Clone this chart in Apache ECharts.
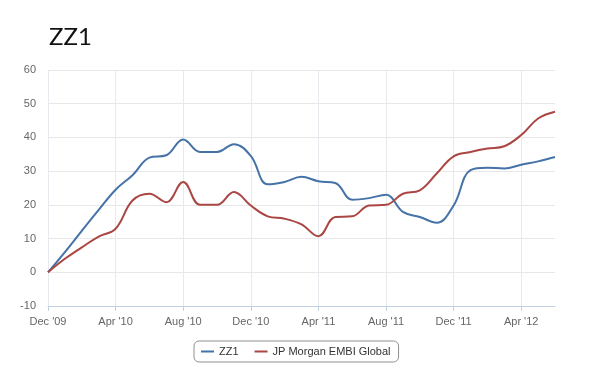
<!DOCTYPE html>
<html>
<head>
<meta charset="utf-8">
<script src="https://cdn.jsdelivr.net/npm/echarts@6/dist/echarts.min.js"></script>
<style>
  html, body { margin: 0; padding: 0; background: #fff; }
  #chart { width: 600px; height: 376px; }
</style>
</head>
<body>
<div id="chart"></div>
<script>
// monthly points, Dec '09 .. Jun '12
const months = [
    "Dec '09", "Jan '10", "Feb '10", "Mar '10", "Apr '10", "May '10", "Jun '10",
    "Jul '10", "Aug '10", "Sep '10", "Oct '10", "Nov '10", "Dec '10",
    "Jan '11", "Feb '11", "Mar '11", "Apr '11", "May '11", "Jun '11",
    "Jul '11", "Aug '11", "Sep '11", "Oct '11", "Nov '11", "Dec '11",
    "Jan '12", "Feb '12", "Mar '12", "Apr '12", "May '12", "Jun '12"
];
const zz1 = [0, 6, 12.3, 18.5, 24.5, 28.8, 34, 34.7, 39.4, 35.7, 35.7, 38, 34.5,
    26.1, 26.8, 28.3, 27, 26.5, 21.5, 22, 23, 17.9, 16.4, 14.7, 19.8,
    30.3, 31, 30.8, 31.9, 32.9, 34.2];
const embi = [0, 4, 7.4, 10.6, 12.9, 21.3, 23.3, 20.8, 26.8, 20, 20, 23.8, 19.8,
    16.6, 15.9, 14.2, 10.7, 16.4, 16.6, 19.8, 20, 23.3, 24.3, 29.3, 34.4,
    35.7, 36.7, 37.4, 40.7, 45.6, 47.6];
const seriesNames = ['ZZ1', 'JP Morgan EMBI Global'];
const colors = ['#4572A7', '#AA4643'];

const chart = echarts.init(document.getElementById('chart'));

chart.setOption({
    animation: false,
    title: {
        text: 'ZZ1',
        left: 44,
        top: 20,
        textStyle: { fontFamily: 'Lato', fontSize: 24, fontWeight: 'normal', color: '#111' }
    },
    legend: {
        data: seriesNames,
        left: 194,
        top: 341,
        icon: 'rect',
        itemWidth: 13,
        itemHeight: 2,
        itemGap: 16,
        padding: [5, 8, 5, 7],
        borderColor: '#909090',
        borderWidth: 1,
        borderRadius: 5,
        textStyle: { fontFamily: 'Liberation Sans', fontSize: 11, color: '#333' }
    },
    grid: { left: 48, right: 45, top: 70, bottom: 70 },
    xAxis: {
        type: 'category',
        data: months,
        boundaryGap: false,
        axisLine: { onZero: false, lineStyle: { color: '#C0D0E0' } },
        axisTick: { interval: 3, length: 5, lineStyle: { color: '#C0D0E0' } },
        axisLabel: { interval: 3, margin: 10, color: '#666', fontFamily: 'Liberation Sans', fontSize: 11 },
        splitLine: { show: true, interval: 3, lineStyle: { color: '#e6e9ee' } }
    },
    yAxis: {
        type: 'value',
        min: -10,
        max: 60,
        interval: 10,
        axisLine: { show: false },
        axisTick: { show: false },
        axisLabel: { margin: 12, color: '#666', fontFamily: 'Liberation Sans', fontSize: 11 },
        splitLine: { lineStyle: { color: '#e8e8e8' } }
    },
    series: [
        { name: seriesNames[0], type: 'line', data: zz1, smooth: 0.4, showSymbol: false,
          itemStyle: { color: colors[0] }, lineStyle: { width: 2, color: colors[0] } },
        { name: seriesNames[1], type: 'line', data: embi, smooth: 0.4, showSymbol: false,
          itemStyle: { color: colors[1] }, lineStyle: { width: 2, color: colors[1] } }
    ]
});
</script>
</body>
</html>
